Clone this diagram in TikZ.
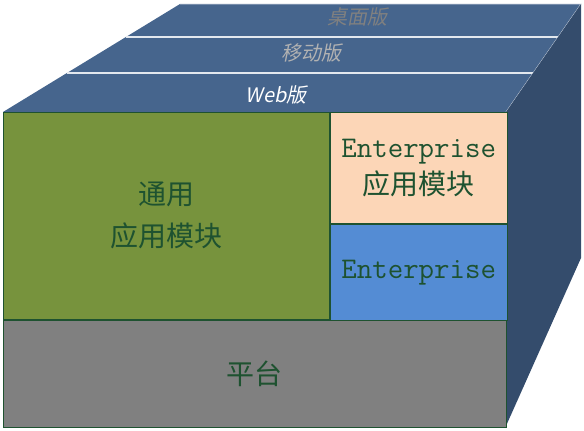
\documentclass[tikz,border=0pt]{standalone}
\usepackage{fontspec}
\usepackage{tikz}
\usetikzlibrary{positioning}
\newfontfamily\cjk{Noto Sans CJK SC}
\newfontfamily\cjkslant[FakeSlant=0.2]{Noto Sans CJK SC}
\definecolor{topblue}{RGB}{70,101,141}
\definecolor{sideblue}{RGB}{52,76,108}
\definecolor{modgreen}{RGB}{119,147,61}
\definecolor{entpeach}{RGB}{252,214,183}
\definecolor{entblue}{RGB}{84,140,212}
\definecolor{platgray}{RGB}{128,128,128}
\definecolor{textgreen}{RGB}{30,82,48}

\begin{document}
\begin{tikzpicture}[
  x=1pt, y=-1pt,
  block/.style={draw=textgreen, line width=0.8pt, anchor=north west, align=center, inner sep=0pt, text=textgreen, font=\cjk\fontsize{28}{42}\selectfont},
  strip/.style={font=\cjkslant\fontsize{20}{22}\selectfont}
]
\useasboundingbox (0,0) rectangle (584,431);

% top and side faces
\fill[topblue] (3,112) -- (180,4) -- (581,4) -- (506,112) -- cycle;
\draw[white!75!topblue, line width=0.8pt] (180,4) -- (581,4) -- (506,112);
\draw[white!85!topblue, line width=1.2pt] (67,73) -- (533,73);
\draw[white!85!topblue, line width=1.2pt] (126,37) -- (558,37);
\fill[sideblue] (506,112) -- (581,4) -- (581,258) -- (506,426) -- cycle;

\node[strip, text=platgray] (desk) at (357,17) {桌面版};
\node[strip, text=gray!60] (mobile) at (311,53) {移动版};
\node[strip, text=white] (web) at (276,95) {Web版};

% front face
\node[block, fill=modgreen, minimum width=326pt, minimum height=207pt] (common) at (3,112) {通用\\应用模块};
\node[block, fill=entpeach, minimum width=177pt, minimum height=111pt, anchor=north west] (entmod) at (common.north east) {{\ttfamily\fontsize{30}{34}\selectfont Enterprise}\\[-5pt]应用模块};
\node[block, fill=entblue, minimum width=177pt, minimum height=96pt, anchor=north west] (ent) at (entmod.south west) {\ttfamily\fontsize{30}{34}\selectfont Enterprise};
\node[block, fill=platgray, minimum width=503pt, minimum height=107pt, anchor=north west] (platform) at (common.south west) {平台};
\end{tikzpicture}
\end{document}
